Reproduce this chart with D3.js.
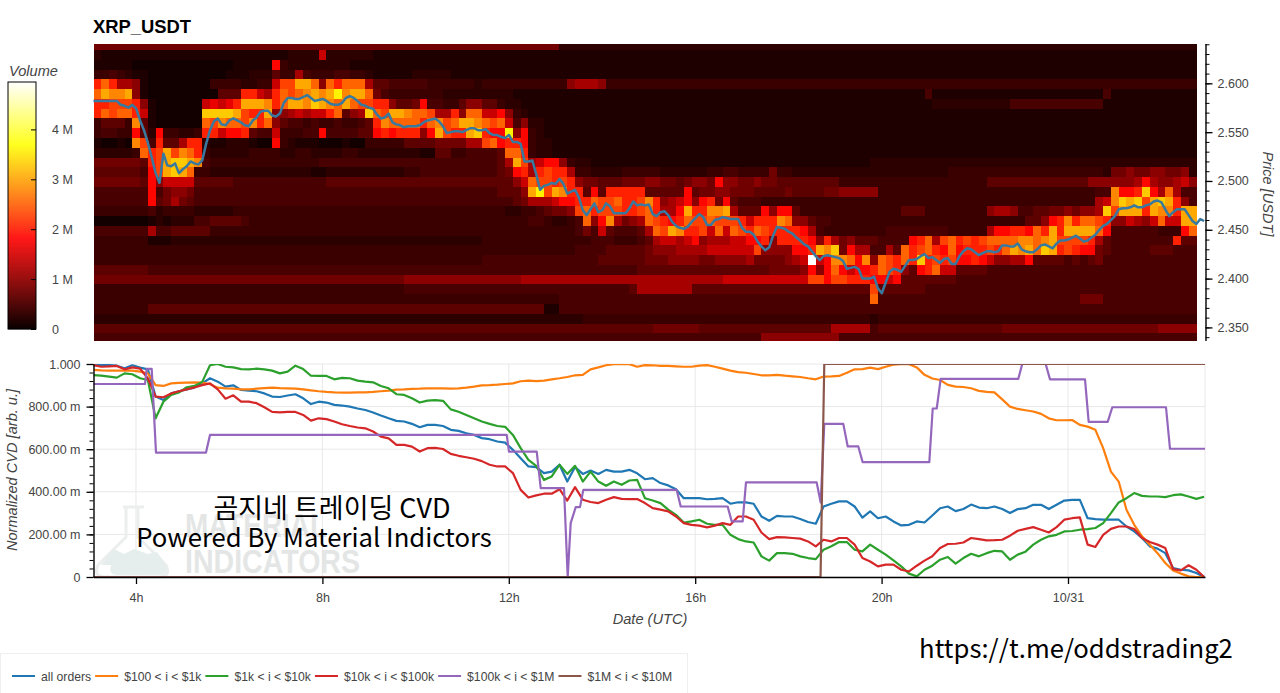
<!DOCTYPE html>
<html>
<head>
<meta charset="utf-8">
<title>XRP_USDT</title>
<script src="https://cdnjs.cloudflare.com/ajax/libs/d3/7.8.5/d3.min.js"></script>
<style>
body { margin: 0; background: #fff; }
svg { display: block; }
text { font-family: "Liberation Sans", Arial, sans-serif; }
.tick text { fill: #444; font-size: 12.5px; font-family: "Liberation Sans", Arial, sans-serif; }
.axisTitle { fill: #444; font-size: 14.6px; font-style: italic; }
.note { fill: #000; font-family: "Noto Sans CJK KR", "Noto Sans", sans-serif; }
</style>
</head>
<body>
<svg id="chart" width="1280" height="693"></svg>
<script>
let startHour = 3.088, endHour = 26.94;

// price, one reading every 5 minutes
let priceValues = [
2.582,2.582,2.582,2.582,2.582,2.582,2.582,2.578,2.577,2.575,2.578,2.574,2.562,2.552,2.539,2.524,2.508,2.498,2.528,2.516,
2.515,2.518,2.508,2.512,2.515,2.520,2.518,2.517,2.521,2.538,2.552,2.561,2.564,2.558,2.557,2.562,2.564,2.562,2.560,2.557,
2.556,2.562,2.565,2.571,2.572,2.572,2.567,2.566,2.569,2.580,2.585,2.585,2.584,2.584,2.586,2.588,2.585,2.582,2.583,2.584,
2.582,2.579,2.578,2.578,2.580,2.585,2.587,2.585,2.582,2.578,2.577,2.575,2.574,2.568,2.564,2.565,2.569,2.560,2.558,2.557,
2.555,2.556,2.556,2.556,2.557,2.560,2.562,2.563,2.564,2.561,2.556,2.549,2.550,2.551,2.551,2.550,2.552,2.554,2.554,2.552,
2.552,2.553,2.549,2.547,2.547,2.545,2.544,2.547,2.540,2.540,2.538,2.520,2.520,2.521,2.507,2.491,2.495,2.496,2.498,2.497,
2.502,2.497,2.487,2.489,2.491,2.483,2.470,2.465,2.471,2.477,2.468,2.470,2.477,2.474,2.467,2.467,2.467,2.467,2.472,2.479,
2.475,2.476,2.475,2.476,2.466,2.464,2.468,2.469,2.465,2.458,2.454,2.452,2.451,2.453,2.458,2.462,2.466,2.463,2.455,2.455,
2.460,2.461,2.463,2.462,2.461,2.461,2.461,2.452,2.448,2.448,2.445,2.438,2.433,2.429,2.432,2.444,2.453,2.452,2.451,2.448,
2.446,2.442,2.439,2.435,2.433,2.428,2.423,2.419,2.423,2.424,2.423,2.422,2.421,2.418,2.410,2.411,2.412,2.410,2.400,2.400,
2.400,2.402,2.390,2.385,2.396,2.407,2.410,2.409,2.407,2.413,2.419,2.419,2.420,2.423,2.425,2.421,2.422,2.419,2.416,2.420,
2.421,2.415,2.415,2.423,2.428,2.431,2.430,2.427,2.424,2.426,2.428,2.428,2.427,2.428,2.434,2.434,2.433,2.433,2.436,2.430,
2.428,2.427,2.427,2.430,2.434,2.435,2.433,2.431,2.436,2.439,2.439,2.440,2.442,2.444,2.441,2.438,2.439,2.442,2.445,2.450,
2.454,2.456,2.460,2.464,2.471,2.472,2.472,2.473,2.475,2.473,2.473,2.475,2.476,2.479,2.480,2.478,2.471,2.464,2.468,2.471,
2.471,2.471,2.465,2.459,2.456,2.461,2.459];

// volume per 10 minute column and 0.01 price bin, one string per bin from the top.
// each character is an index into volumeLevels
let volumeLevels = [0.05,0.15,0.25,0.35,0.45,0.6,0.75,0.95,1.15,1.4,1.65,1.85,2.05,2.3,2.55,2.8,3.05,3.3,3.6,3.9,4.95];
let levelChars = "0123456789abcdefghijk";
let volumeRows = [
"6666666666 6666666666 6666666666 6666666666 6666666666 6666666666 2",
"2111111111 1111111111 1111122229 2222221111 1",
"1111100000 0000000011 111b322222 2221111111 1",
"3343211000 0000000111 2225338433 3443321111 1222221111 1",
"cec8871000 0000033332 2339ddgge7 eceee85544 4443333332 3333333333 3788873333 3",
"egffg71000 000000555c c98cedefgf gifgge6433 3333322222 2222111111 1111111111 1111111111 1111111111 1111111111 1111111411 1111111111 1111111111 4111111111 1",
"ccdddc7100 00009a9acg ggfceggfhg fegeddcc75 56b4433577 5532211111 1111111111 1111111111 1111111111 1111111111 1111111122 2222222244 4444444444 1",
"cedeec9100 0000hhhhgd ccg7789899 ce578hedgg feed88c7ee 99b7321111 1",
"35553f5100 0000edfeed fce7544343 343345cfee eecefdeggf ede9472211 1",
"34433b52b3 3223cc9bbc 5449333 44b 444455bcbc cc7bgdccgh cbbi7b3211 1",
"10010fd4c5 58cc211222 100b321110 0010033333 5555666688 debccb3221 1",
"222223ecdg dfec322222 3333223322 2233222222 2211553344 445eec3221 1",
"6666665cdg hhgf433333 3333333334 4444444444 4444444444 4458gd89bb 7322111111 1111111111 1111111111 1111111111 2",
"5555554bdg hge3322222 2222222211 2222222222 3344444444 4456bc8cdc c833222233 3332222223 3443333633 2222222222 2222222222 3333333333 3333333333 2667667766 72",
"6666665b79 9995555544 4444444444 5555555555 5555555555 555579eddc dc76655566 6776656776 b776676655 5555553333 3333333333 3333355555 5555555577 7777 8b8778 97",
"4444444b46 7764444444 4444444444 4444444444 4444444444 445557gidg fcc5b5cccc c55555b566 7766655556 5555667777 7333333333 3333333333 3333333334 4fbbchb8e8 44",
"4444444b56 8654444444 4444444444 4444444444 4444444444 4444568889 bbcceddecc dfc789b7bc 6b54443333 3333333333 3333333333 3333333333 3333333338 9fhghdghgc 74",
"3333333423 3332222233 3333333333 3333333333 3333333333 3332233456 67decdddcc dec88bgccf fg8555b7bb 5333333333 3333555333 3333378874 4556676778 hdgggcgffc gg",
"0000000121 2224455554 3333333333 3333333333 3333333333 3333334432 234e7bf867 8edcbcedde dddc9cccfe 7754433333 3333333333 3333333333 557bcfceed c779879e99 gg",
"4444444844 5555533333 3333333333 3333333333 3333333333 3333333333 3346495444 58edgfccd9 e9edcedccc cb84333333 3344444444 333338bbcc becgcgggge b444444333 be",
"3333333111 2222222222 2222222222 2222222222 2222222222 3333333333 3333444333 4589989b78 8899bbc7cc ccb7c86755 54444bce8d ecdcdeeeef fefgddddc8 544444444c 55",
"3333333333 3333333333 3333333333 3333333333 3333333333 3333333333 3344445555 5677788889 99999d7777 bbcgfh6b88 4485ecdecb ebcccdcegf gehgcdcbb6 5444445554 44",
"3333333333 3333333333 3333333333 3333333333 3333333333 4444444444 4444455555 5666777766 777786 6667 89k9bffebf 7edcechcdc dbbcb97788 b555545456 4",
"5555555444 4444444444 4444444444 4444444444 4444444444 4444444444 4444444444 5555555555 5555555666 67b7beb9bb cedc75bce9 9555544444 4",
"6666666666 6666666666 6666666666 6666666666 7777777777 7777788888 8888888888 8888888888 8999999999 99ddbddccc bb9b555555 5444444444 4",
"3333333333 3333333333 3333333333 3333333333 4444444444 4444444444 4444444445 8888888555 5555555555 5555555555 d555555444 4",
"3333333333 3333333333 3333333333 3333333333 3333333333 3333333333 4444444444 4444444444 4444444444 4444444444 e444444444 4444444444 4444444666 4",
"3333333555 5555555555 5555555555 5555555555 5555555555 5555555511 4444444444 4",
"2222222222 2222222222 2222222222 2222222222 2222222222 2222222222 2223333333 3333333333 3333333333 3333333333 2333333333 3",
"5555555555 5555555555 5555555555 5555555555 5555555555 5555555555 5555555555 5566666655 5555555555 5555588888 4555555555 5555555666 6666666666 6666666777 77",
"4444444444 4444444444 4444444444 4444444444 4444444444 4444444444 4444444444 4444444444 4444447777 7777774444 4"
];
let columnCount = 142;
let binHeight = 0.01;
let firstBinEdge = 2.634;

// CVD series, one reading every 10 minutes
let allOrders = [
.995,.995,.995,.992,.980,.994,.983,.975,.847,.831,.862,.872,.881,.889,.909,.933,.917,.894,.900,.878,
.875,.872,.862,.847,.845,.852,.858,.839,.812,.823,.819,.808,.805,.800,.791,.784,.772,.758,.745,.733,
.730,.719,.703,.714,.714,.709,.691,.686,.675,.667,.652,.647,.636,.631,.597,.558,.519,.516,.488,.495,
.527,.448,.516,.484,.500,.484,.503,.495,.495,.503,.487,.459,.464,.441,.430,.412,.370,.370,.370,.365,
.367,.370,.344,.351,.350,.344,.284,.264,.287,.284,.284,.272,.258,.250,.331,.344,.355,.355,.331,.279,
.308,.276,.284,.261,.242,.245,.261,.256,.289,.323,.331,.309,.319,.340,.326,.323,.331,.319,.300,.319,
.323,.339,.339,.319,.339,.359,.362,.362,.276,.272,.269,.269,.269,.237,.214,.183,.144,.133,.112,.042,
.034,.031,.019,0];
let orders100to1k = [
.972,.970,.969,.969,.969,.969,.964,.956,.901,.897,.909,.911,.913,.914,.913,.905,.889,.886,.884,.881,
.881,.884,.887,.889,.887,.886,.884,.881,.876,.872,.869,.867,.866,.866,.867,.867,.869,.872,.875,.880,
.881,.883,.884,.886,.886,.886,.884,.886,.889,.894,.900,.901,.903,.906,.909,.919,.922,.920,.922,.928,
.933,.939,.947,.949,.975,.984,.994,.999,.999,.999,.987,.995,.994,.991,.991,.989,.987,.987,.992,.995,
.987,.978,.969,.962,.959,.953,.947,.947,.949,.945,.942,.939,.933,.928,.941,.942,.944,.959,.975,.976,
.983,.976,.987,.997,.999,.999,.984,.949,.932,.925,.902,.894,.892,.886,.874,.869,.867,.834,.800,.789,
.783,.777,.766,.745,.736,.736,.737,.714,.706,.691,.605,.495,.448,.316,.245,.191,.152,.112,.066,.031,
.016,.003,0,0];
let orders1kto10k = [
.948,.945,.941,.936,.956,.952,.933,.925,.745,.823,.855,.866,.891,.897,.916,.994,1,.987,.984,.976,
.975,.978,.975,.969,.956,.964,.992,.976,.945,.944,.944,.928,.935,.933,.922,.917,.914,.897,.886,.858,
.855,.839,.819,.828,.830,.827,.787,.776,.761,.745,.730,.719,.709,.705,.667,.605,.550,.522,.456,.472,
.527,.484,.522,.448,.495,.448,.428,.448,.433,.453,.456,.370,.359,.347,.316,.292,.256,.261,.269,.250,
.245,.245,.198,.178,.167,.162,.097,.077,.112,.112,.109,.097,.089,.084,.128,.144,.164,.164,.128,.120,
.152,.128,.105,.078,.050,.016,.003,.034,.053,.081,.094,.063,.089,.109,.097,.112,.123,.120,.081,.105,
.119,.152,.175,.191,.198,.214,.216,.222,.225,.230,.253,.300,.350,.370,.394,.381,.378,.378,.375,.384,
.388,.378,.367,.377];
let orders10kto100k = [
.995,.987,.989,.991,.975,.984,.978,.933,.847,.844,.862,.872,.881,.890,.901,.909,.881,.837,.853,.823,
.823,.816,.797,.775,.773,.775,.775,.761,.734,.745,.741,.730,.717,.709,.702,.698,.683,.659,.651,.620,
.620,.612,.589,.605,.606,.601,.578,.569,.562,.555,.544,.527,.519,.519,.488,.409,.373,.383,.391,.391,
.412,.359,.422,.363,.352,.347,.363,.375,.367,.366,.366,.347,.323,.316,.308,.284,.253,.245,.241,.233,
.241,.253,.245,.284,.284,.269,.209,.178,.187,.186,.183,.180,.167,.144,.175,.167,.183,.183,.152,.089,
.073,.050,.058,.058,.034,.026,.053,.077,.097,.136,.155,.156,.162,.183,.178,.172,.173,.175,.194,.217,
.226,.234,.222,.209,.234,.269,.276,.280,.152,.141,.198,.226,.237,.237,.225,.183,.164,.152,.136,.037,
.031,.055,.034,0];

// the two big order classes move in steps, so they keep their own readings
let hours100kto1M = [3.088,4.193,4.230,4.337,4.429,5.502,5.588,11.955,12.004,12.599,12.685,13.185,13.264,13.328,13.436,13.528,13.599,15.603,15.689,16.697,16.783,17.019,17.090,18.607,18.693,18.770,19.178,19.273,19.500,19.594,21.024,21.097,21.183,21.268,22.933,23.018,23.521,23.614,24.365,24.444,24.852,24.951,26.103,26.189,26.94];
let orders100kto1M = [.906,.906,.977,.977,.584,.584,.667,.667,.589,.589,.417,.417,0,.253,.328,.328,.409,.409,.331,.331,.261,.261,.444,.444,.350,.719,.719,.613,.613,.539,.539,.791,.791,.930,.930,1,1,.928,.928,.728,.728,.797,.797,.602,.602];
let hours1Mto10M = [3.088,18.69,18.77,26.94];
let orders1Mto10M = [0,0,1,1];

let seriesNames = ["all orders", "$100 < i < $1k", "$1k < i < $10k", "$10k < i < $100k", "$100k < i < $1M", "$1M < i < $10M"];
let seriesColors = ["#1f77b4", "#ff7f0e", "#2ca02c", "#d62728", "#9467bd", "#8c564b"];

let priceTicks = [2.35, 2.40, 2.45, 2.50, 2.55, 2.60];
let cvdTicks = [0, 0.2, 0.4, 0.6, 0.8, 1];
let cvdTickLabels = ["0", "200.00 m", "400.00 m", "600.00 m", "800.00 m", "1.000"];
let hourTicks = [4, 8, 12, 16, 20, 24];
let hourTickLabels = ["4h", "8h", "12h", "16h", "20h", "10/31"];
let volumeTicks = [0, 1, 2, 3, 4];

let svg = d3.select("#chart");

let x = d3.scaleLinear().domain([startHour, endHour]).range([93.5, 1205]);
let priceY = d3.scaleLinear().domain([2.3366, 2.6408]).range([340.5, 43.5]);
let cvdY = d3.scaleLinear().domain([0, 1]).range([577, 364]);

let hot = d3.scaleLinear()
    .domain([0, 1.81, 3.69, 4.95])
    .range(["#0b0000", "#ff0000", "#ffff00", "#ffffff"]);

// soft edge like the screenshot has
let soften = svg.append("filter").attr("id", "soften")
    .attr("color-interpolation-filters", "sRGB")
    .attr("x", 0).attr("y", 0).attr("width", 1).attr("height", 1);
soften.append("feGaussianBlur").attr("stdDeviation", 0.6);

// heatmap
let cells = [];
volumeRows.forEach((row, r) => {
    let chars = row.replace(/ /g, "");
    chars = chars.padEnd(columnCount, chars[chars.length - 1]);
    for (let i = 0; i < columnCount; i++) {
        let top = r === 0 ? priceY.domain()[1] : firstBinEdge - (r - 1) * binHeight;
        let bottom = Math.max(firstBinEdge - r * binHeight, priceY.domain()[0]);
        cells.push({
            t0: startHour + i / 6,
            t1: startHour + (i + 1) / 6,
            top: top,
            bottom: bottom,
            volume: volumeLevels[levelChars.indexOf(chars[i])]
        });
    }
});

svg.append("g")
    .attr("filter", "url(#soften)")
    .selectAll("rect")
    .data(cells)
    .enter()
    .append("rect")
    .attr("shape-rendering", "crispEdges")
    .attr("x", d => x(d.t0))
    .attr("width", d => x(d.t1) - x(d.t0) + 0.5)
    .attr("y", d => priceY(d.top))
    .attr("height", d => priceY(d.bottom) - priceY(d.top) + 0.5)
    .attr("fill", d => hot(d.volume));

// price line sits over the heatmap and runs on past its last column
let priceLine = d3.line()
    .x((d, i) => x(startHour + i / 12))
    .y(d => priceY(d));

// price axis on the right
let priceMinor = d3.range(2.34, 2.645, 0.01);
svg.append("g")
    .attr("transform", "translate(1205.5,0)")
    .call(d3.axisRight(priceY).tickValues(priceMinor).tickSize(4).tickFormat("").tickSizeOuter(0))
    .call(g => g.select(".domain").attr("stroke", "#000").attr("stroke-width", 1.4));
svg.append("g")
    .attr("transform", "translate(1205.5,0)")
    .call(d3.axisRight(priceY).tickValues(priceTicks).tickSize(7).tickPadding(5).tickFormat(d3.format(".3f")))
    .call(g => g.select(".domain").remove())
    .call(g => g.selectAll("line").attr("stroke-width", 1.3));

svg.append("path")
    .datum(priceValues)
    .attr("d", priceLine)
    .attr("fill", "none")
    .attr("stroke", "#37799f")
    .attr("stroke-width", 2.5)
    .attr("stroke-linejoin", "round");

svg.append("text")
    .attr("class", "axisTitle")
    .attr("text-anchor", "middle")
    .attr("transform", "translate(1263,194) rotate(90)")
    .text("Price [USDT]");

svg.append("text")
    .attr("x", 93)
    .attr("y", 33)
    .attr("font-size", 18.4)
    .attr("font-weight", "bold")
    .text("XRP_USDT");

// colour bar
let barY = d3.scaleLinear().domain([0, 4.95]).range([329, 82]);
svg.append("g").selectAll("rect")
    .data(d3.range(0, 4.95, 0.02))
    .enter()
    .append("rect")
    .attr("x", 8)
    .attr("width", 28)
    .attr("y", d => barY(d + 0.02))
    .attr("height", d => barY(d) - barY(d + 0.02) + 0.3)
    .attr("fill", d => hot(d));
svg.append("rect")
    .attr("x", 8).attr("y", 82).attr("width", 28).attr("height", 247)
    .attr("fill", "none").attr("stroke", "#000").attr("stroke-width", 1);
svg.append("g")
    .attr("transform", "translate(36,0)")
    .call(d3.axisRight(barY).tickValues(volumeTicks).tickSizeInner(-5).tickSizeOuter(0).tickPadding(16)
        .tickFormat(d => d === 0 ? "0" : d + " M"))
    .call(g => g.select(".domain").remove());
svg.append("text")
    .attr("class", "axisTitle")
    .attr("x", 9)
    .attr("y", 76)
    .text("Volume");

// lower panel
let grid = svg.append("g").attr("stroke", "#e8e8e8").attr("stroke-width", 1);
grid.selectAll(".gy").data(cvdTicks).enter().append("line")
    .attr("x1", x.range()[0]).attr("x2", x.range()[1])
    .attr("y1", d => cvdY(d)).attr("y2", d => cvdY(d));
grid.selectAll(".gx").data(hourTicks).enter().append("line")
    .attr("x1", d => x(d)).attr("x2", d => x(d))
    .attr("y1", cvdY.range()[1]).attr("y2", cvdY.range()[0]);
grid.append("line")
    .attr("x1", x.range()[1]).attr("x2", x.range()[1])
    .attr("y1", cvdY.range()[1]).attr("y2", cvdY.range()[0]);

// watermark, behind the lines
let mark = svg.append("g");
mark.append("path")
    .attr("d", "M123,507 h21 M126,507 v30 l-28,28 q-5,11 6,12 h56 q11,-1 6,-12 l-28,-28 v-30")
    .attr("fill", "none").attr("stroke", "#eceeee").attr("stroke-width", 3);
mark.append("path")
    .attr("d", "M101,565 l13,-16 10,5 10,-5 14,5 9,-2 9,13 q3,9 -5,10 h-45 q-8,-1 -5,-10 z")
    .attr("fill", "#e6eded");
mark.append("text").text("MATERIAL")
    .attr("x", 185).attr("y", 537).attr("font-size", 34).attr("font-weight", "bold")
    .attr("fill", "#e4e6e6").attr("textLength", 142).attr("lengthAdjust", "spacingAndGlyphs");
mark.append("text").text("INDICATORS")
    .attr("x", 185).attr("y", 573).attr("font-size", 34).attr("font-weight", "bold")
    .attr("fill", "#e4e6e6").attr("textLength", 175).attr("lengthAdjust", "spacingAndGlyphs");

svg.append("clipPath").attr("id", "frame").append("rect")
    .attr("x", x.range()[0]).attr("y", cvdY.range()[1])
    .attr("width", x.range()[1] - x.range()[0]).attr("height", cvdY.range()[0] - cvdY.range()[1]);

let tenMinuteLine = d3.line()
    .x((d, i) => x(startHour + i / 6))
    .y(d => cvdY(d));
let stepLine = hours => d3.line()
    .x((d, i) => x(hours[i]))
    .y(d => cvdY(d));

let lines = svg.append("g").attr("clip-path", "url(#frame)")
    .attr("fill", "none").attr("stroke-width", 2.2).attr("stroke-linejoin", "round");
[allOrders, orders100to1k, orders1kto10k, orders10kto100k].forEach((values, i) => {
    lines.append("path").datum(values).attr("d", tenMinuteLine).attr("stroke", seriesColors[i]);
});
lines.append("path").datum(orders100kto1M).attr("d", stepLine(hours100kto1M)).attr("stroke", seriesColors[4]);
lines.append("path").datum(orders1Mto10M).attr("d", stepLine(hours1Mto10M)).attr("stroke", seriesColors[5]);

svg.append("g")
    .attr("transform", "translate(93.5,0)")
    .call(d3.axisLeft(cvdY).tickValues(d3.range(0, 1.001, 0.04)).tickSize(4).tickFormat("").tickSizeOuter(0))
    .call(g => g.select(".domain").attr("stroke", "#000").attr("stroke-width", 1.4));
svg.append("g")
    .attr("transform", "translate(93.5,0)")
    .call(d3.axisLeft(cvdY).tickValues(cvdTicks).tickSize(7).tickPadding(6)
        .tickFormat((d, i) => cvdTickLabels[i]))
    .call(g => g.select(".domain").remove())
    .call(g => g.selectAll("line").attr("stroke-width", 1.3));

svg.append("g")
    .attr("transform", "translate(0,577)")
    .call(d3.axisBottom(x).tickValues(hourTicks).tickSize(7).tickSizeOuter(0).tickPadding(9)
        .tickFormat((d, i) => hourTickLabels[i]))
    .call(g => g.select(".domain").attr("stroke", "#000").attr("stroke-width", 1.4))
    .call(g => g.selectAll("line").attr("stroke-width", 1.3));

svg.append("text")
    .attr("class", "axisTitle")
    .attr("text-anchor", "middle")
    .attr("transform", "translate(17,470) rotate(-90)")
    .text("Normalized CVD [arb. u.]");
svg.append("text")
    .attr("class", "axisTitle")
    .attr("text-anchor", "middle")
    .attr("x", 650)
    .attr("y", 624)
    .text("Date (UTC)");

// pasted-on captions
svg.append("text").attr("class", "note")
    .attr("x", 332).attr("y", 518).attr("text-anchor", "middle").attr("font-size", 27)
    .text("곰지네 트레이딩 CVD");
svg.append("text").attr("class", "note")
    .attr("x", 314).attr("y", 547).attr("text-anchor", "middle").attr("font-size", 25.7)
    .text("Powered By Material Indictors");
svg.append("text").attr("class", "note")
    .attr("x", 1076).attr("y", 658).attr("text-anchor", "middle").attr("font-size", 25.7)
    .text("https://t.me/oddstrading2");

// legend
let legend = svg.append("g");
legend.append("rect")
    .attr("x", 0.5).attr("y", 653.5).attr("width", 687).attr("height", 45)
    .attr("fill", "#fff").attr("stroke", "#eeeeee");
let legendX = 12;
seriesNames.forEach((name, i) => {
    legend.append("line")
        .attr("x1", legendX).attr("x2", legendX + 23)
        .attr("y1", 676).attr("y2", 676)
        .attr("stroke", seriesColors[i]).attr("stroke-width", 2);
    let label = legend.append("text")
        .attr("x", legendX + 29).attr("y", 680.5)
        .attr("font-size", 12.2).attr("fill", "#444")
        .text(name);
    legendX += 29 + label.node().getComputedTextLength() + 4;
});
</script>
</body>
</html>
